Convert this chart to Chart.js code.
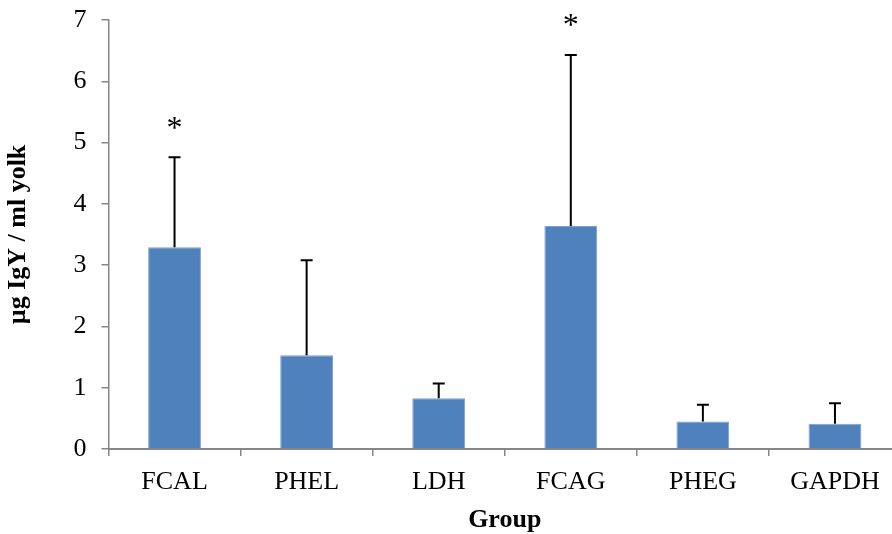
<!DOCTYPE html>
<html>
<head>
<meta charset="utf-8">
<script src="https://cdn.jsdelivr.net/npm/chart.js@4.4.1/dist/chart.umd.min.js"></script>
<style>
  html, body { margin: 0; padding: 0; background: #fff; overflow: hidden; }
  #wrap { width: 901px; height: 534px; position: relative; }
</style>
</head>
<body>
<div id="wrap"><canvas id="igyChart"></canvas></div>
<script>
// chart data
const groups = ['FCAL', 'PHEL', 'LDH', 'FCAG', 'PHEG', 'GAPDH'];
const meanIgY = [3.29, 1.53, 0.83, 3.64, 0.45, 0.41];
const sdIgY = [1.47, 1.55, 0.24, 2.79, 0.27, 0.335];
const significant = [true, false, false, true, false, false];
const yTicks = [0, 1, 2, 3, 4, 5, 6, 7];

const serif = "'Liberation Serif', 'Times New Roman', serif";

// draws the error bars (upper only) and the * marks
const errorBarPlugin = {
    id: 'errorBars',
    afterDatasetsDraw(chart) {
        const ctx = chart.ctx;
        const yScale = chart.scales.y;
        const bars = chart.getDatasetMeta(0).data;
        ctx.save();
        ctx.strokeStyle = '#000';
        ctx.lineWidth = 2;
        bars.forEach(function(bar, i) {
            const top = yScale.getPixelForValue(meanIgY[i] + sdIgY[i]);
            ctx.beginPath();
            ctx.moveTo(bar.x, bar.y);
            ctx.lineTo(bar.x, top);
            ctx.moveTo(bar.x - 6, top);
            ctx.lineTo(bar.x + 6, top);
            ctx.stroke();
            if (significant[i]) {
                ctx.fillStyle = '#000';
                ctx.font = '32px ' + serif;
                ctx.textAlign = 'center';
                ctx.textBaseline = 'middle';
                ctx.fillText('*', bar.x, top - 28);
            }
        });
        ctx.restore();
    }
};

const ctx = document.getElementById('igyChart').getContext('2d');
const igyChart = new Chart(ctx, {
    type: 'bar',
    data: {
        labels: groups,
        datasets: [{
            data: meanIgY,
            backgroundColor: '#4f81bd',
            borderColor: '#7ea2d2',
            borderWidth: 1,
            barPercentage: 0.4,
            categoryPercentage: 1.0
        }]
    },
    options: {
        responsive: true,
        maintainAspectRatio: false,
        animation: false,
        layout: { padding: { top: 20, right: 0, left: 0, bottom: 0 } },
        plugins: {
            legend: { display: false },
            tooltip: { enabled: false }
        },
        scales: {
            x: {
                grid: { drawOnChartArea: false, drawTicks: true, tickLength: 7, color: '#868686', lineWidth: 1.5 },
                border: { color: '#868686', width: 2 },
                ticks: { color: '#000', font: { family: serif, size: 26 }, padding: 11, maxRotation: 0 },
                title: { display: true, text: 'Group', color: '#000', font: { family: serif, size: 26, weight: 'bold' }, padding: { top: 0, bottom: -2 } },
                afterFit(scale) { scale.height = 85; scale.paddingLeft = 0; scale.paddingRight = 0; }
            },
            y: {
                min: 0,
                max: 7,
                afterBuildTicks(scale) { scale.ticks = yTicks.map(v => ({ value: v })); },
                grid: { drawOnChartArea: false, drawTicks: true, tickLength: 7, color: '#868686', lineWidth: 1.5 },
                border: { color: '#868686', width: 1.5 },
                ticks: { color: '#000', font: { family: serif, size: 26 }, padding: 15 },
                title: { display: true, text: 'µg IgY / ml yolk', color: '#000', font: { family: serif, size: 26, weight: 'bold' }, padding: { top: 3, bottom: 0 } },
                afterFit(scale) { scale.width = 108.5; scale.paddingTop = 0; scale.paddingBottom = 0; }
            }
        }
    },
    plugins: [errorBarPlugin]
});
</script>
</body>
</html>
